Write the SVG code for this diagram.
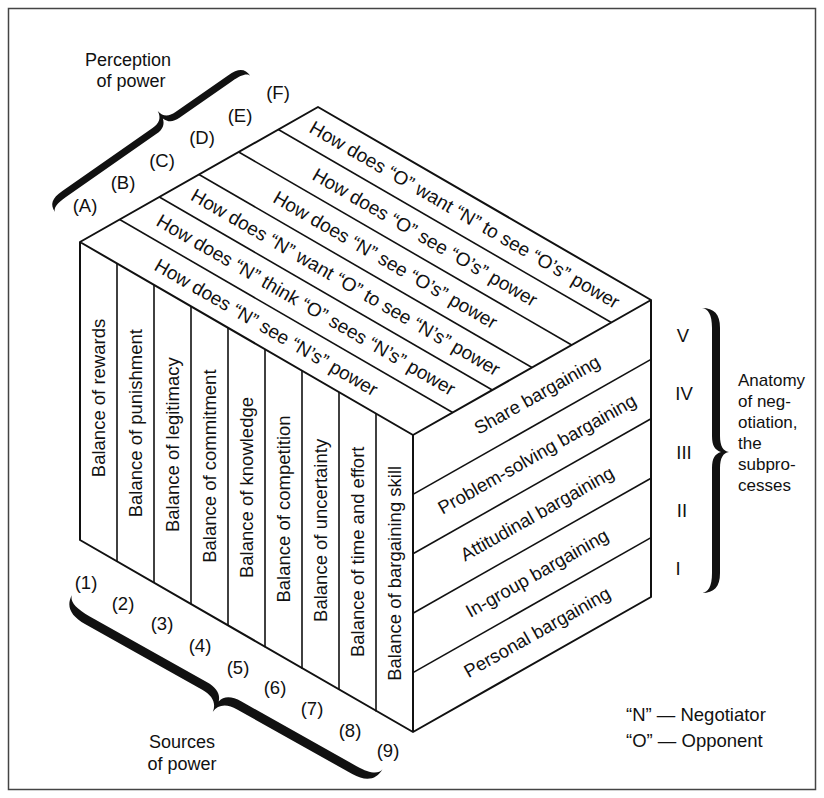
<svg xmlns="http://www.w3.org/2000/svg" width="824" height="798" viewBox="0 0 824 798">
<style>
text{font-family:"Liberation Sans",Arial,Helvetica,sans-serif;fill:#111}
.c{font-size:18.5px;text-anchor:middle;dominant-baseline:central}
.tt{font-size:19px;text-anchor:middle;dominant-baseline:central}
.lbl{font-size:18.5px;text-anchor:middle;dominant-baseline:central}
.cap{font-size:18px;text-anchor:middle}
.note{font-size:17px}
.leg{font-size:18.5px}
.edge{fill:none;stroke:#111;stroke-width:2;stroke-linejoin:round}
.div{fill:none;stroke:#111;stroke-width:1.6}
.brace{fill:#111}
</style>
<rect width="824" height="798" fill="#fff"/>
<rect x="8.5" y="8.5" width="807" height="781" fill="none" stroke="#444" stroke-width="1.5"/>

<g id="cube-outline">
<path class="edge" d="M80,242 L318,107 L651,300 L651,597 L413,732 L80,540 Z M80,242 L413,435 L651,300 M413,435 L413,732"/>
</g>

<g id="top-face">
<g class="div">
<line x1="119.67" y1="219.5" x2="452.67" y2="412.5"/>
<line x1="159.33" y1="197" x2="492.33" y2="390"/>
<line x1="199" y1="174.5" x2="532" y2="367.5"/>
<line x1="238.67" y1="152" x2="571.67" y2="345"/>
<line x1="278.33" y1="129.5" x2="611.33" y2="322.5"/>
</g>
<text class="tt" transform="translate(266.3,327.3) rotate(30.09)">How does “N” see “N’s” power</text>
<text class="tt" transform="translate(306,304.8) rotate(30.09)">How does “N” think “O” sees “N’s” power</text>
<text class="tt" transform="translate(345.7,282.3) rotate(30.09)">How does “N” want “O” to see “N’s” power</text>
<text class="tt" transform="translate(385.3,259.8) rotate(30.09)">How does “N” see “O’s” power</text>
<text class="tt" transform="translate(425,237.3) rotate(30.09)">How does “O” see “O’s” power</text>
<text class="tt" transform="translate(464.7,214.8) rotate(30.09)">How does “O” want “N” to see “O’s” power</text>
</g>

<g id="front-face">
<g class="div">
<line x1="117" y1="263.4" x2="117" y2="561.4"/>
<line x1="154" y1="284.9" x2="154" y2="582.9"/>
<line x1="191" y1="306.3" x2="191" y2="604.3"/>
<line x1="228" y1="327.8" x2="228" y2="625.8"/>
<line x1="265" y1="349.2" x2="265" y2="647.2"/>
<line x1="302" y1="370.7" x2="302" y2="668.7"/>
<line x1="339" y1="392.1" x2="339" y2="690.1"/>
<line x1="376" y1="413.6" x2="376" y2="711.6"/>
</g>
<text class="c" transform="translate(98.5,398) rotate(-90)">Balance of rewards</text>
<text class="c" transform="translate(135.5,423.2) rotate(-90)">Balance of punishment</text>
<text class="c" transform="translate(172.5,444.6) rotate(-90)">Balance of legitimacy</text>
<text class="c" transform="translate(209.5,466.1) rotate(-90)">Balance of commitment</text>
<text class="c" transform="translate(246.5,487.5) rotate(-90)">Balance of knowledge</text>
<text class="c" transform="translate(283.5,509) rotate(-90)">Balance of competition</text>
<text class="c" transform="translate(320.5,530.4) rotate(-90)">Balance of uncertainty</text>
<text class="c" transform="translate(357.5,551.8) rotate(-90)">Balance of time and effort</text>
<text class="c" transform="translate(394.5,573.3) rotate(-90)">Balance of bargaining skill</text>
</g>

<g id="right-face">
<g class="div">
<line x1="413" y1="494.4" x2="651" y2="359.4"/>
<line x1="413" y1="553.8" x2="651" y2="418.8"/>
<line x1="413" y1="613.2" x2="651" y2="478.2"/>
<line x1="413" y1="672.6" x2="651" y2="537.6"/>
</g>
<text class="c" transform="translate(537,394.7) rotate(-29.46)">Share bargaining</text>
<text class="c" transform="translate(537,454) rotate(-29.46)">Problem-solving bargaining</text>
<text class="c" transform="translate(537,513.5) rotate(-29.46)">Attitudinal bargaining</text>
<text class="c" transform="translate(537,573) rotate(-29.46)">In-group bargaining</text>
<text class="c" transform="translate(537,632) rotate(-29.46)">Personal bargaining</text>
</g>

<g id="perception-labels">
<path class="brace" transform="translate(55,212) rotate(-34.9)" d="M0,0 C0,-9 5,-13 18,-13 L128,-13 C136,-13 141,-16 142,-24 C143,-16 148,-13 156,-13 L220,-13 C233,-13 238,-9 238,0 C237,-4 232,-6 220,-6 L156,-6 C148,-6 144,-9 142,-15 C140,-9 136,-6 128,-6 L18,-6 C6,-6 1,-4 0,0 Z"/>
<text class="cap" x="128" y="66">Perception</text>
<text class="cap" x="131" y="87">of power</text>
<text class="lbl" x="85" y="205">(A)</text>
<text class="lbl" x="123" y="182">(B)</text>
<text class="lbl" x="162" y="160">(C)</text>
<text class="lbl" x="202" y="137">(D)</text>
<text class="lbl" x="240" y="115">(E)</text>
<text class="lbl" x="278" y="92">(F)</text>
</g>

<g id="source-labels">
<path class="brace" transform="translate(72,595) rotate(29.3) scale(1,-1)" d="M0,0 C0,-12 8,-19 26,-19 L160,-19 C172,-19 179,-24 180,-33 C181,-24 188,-19 200,-19 L332,-19 C348,-19 356,-12 356,0 C355,-6 348,-10 332,-10 L200,-10 C188,-10 182,-14 180,-21 C178,-14 172,-10 160,-10 L26,-10 C8,-10 1,-6 0,0 Z"/>
<text class="lbl" x="86" y="582">(1)</text>
<text class="lbl" x="123" y="603">(2)</text>
<text class="lbl" x="162" y="623">(3)</text>
<text class="lbl" x="200" y="645">(4)</text>
<text class="lbl" x="238" y="667">(5)</text>
<text class="lbl" x="275" y="687">(6)</text>
<text class="lbl" x="312" y="708">(7)</text>
<text class="lbl" x="350" y="730">(8)</text>
<text class="lbl" x="388" y="750">(9)</text>
<text class="cap" x="182" y="748">Sources</text>
<text class="cap" x="182" y="770">of power</text>
</g>

<g id="subprocess-labels">
<path class="brace" transform="translate(702,308) rotate(90)" d="M0,0 C0,-12 6,-18 20,-18 L128,-18 C138,-18 143,-21 144,-27 C145,-21 150,-18 160,-18 L265,-18 C279,-18 285,-12 285,0 C284,-6 279,-10 265,-10 L160,-10 C150,-10 146,-13 144,-19 C142,-13 138,-10 128,-10 L20,-10 C6,-10 1,-6 0,0 Z"/>
<text class="lbl" x="683" y="335">V</text>
<text class="lbl" x="684" y="393">IV</text>
<text class="lbl" x="684" y="452">III</text>
<text class="lbl" x="682" y="510">II</text>
<text class="lbl" x="678" y="568">I</text>
<text class="note" x="738" y="386">Anatomy</text>
<text class="note" x="738" y="407">of neg-</text>
<text class="note" x="738" y="428">otiation,</text>
<text class="note" x="738" y="449">the</text>
<text class="note" x="738" y="470">subpro-</text>
<text class="note" x="738" y="491">cesses</text>
</g>

<g id="legend">
<text class="leg" x="626" y="721">“N” — Negotiator</text>
<text class="leg" x="626" y="747">“O” — Opponent</text>
</g>
</svg>
